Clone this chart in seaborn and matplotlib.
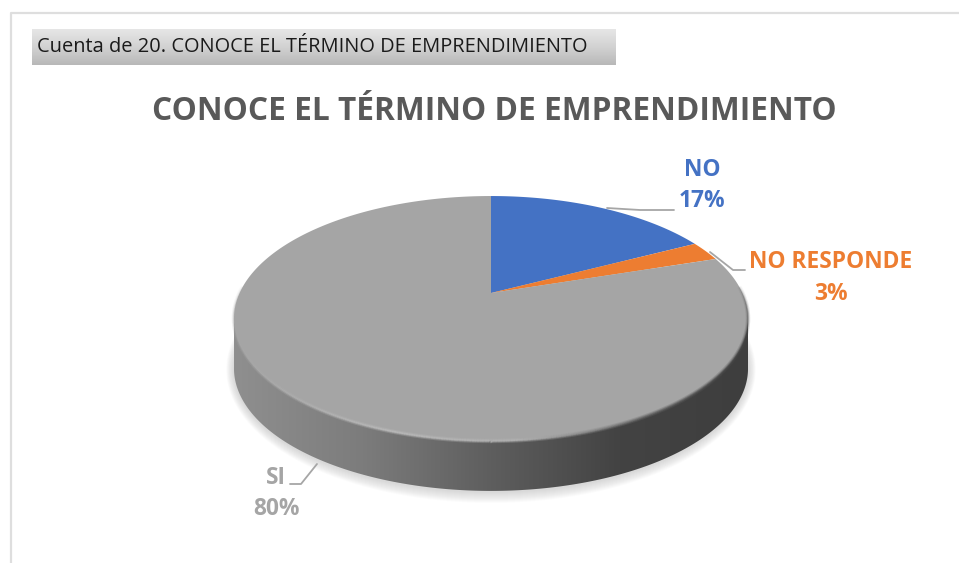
import numpy as np
import matplotlib
matplotlib.use("Agg")
import matplotlib.pyplot as plt
from matplotlib.collections import LineCollection
from matplotlib.colors import LinearSegmentedColormap
from matplotlib.patches import Polygon
import seaborn as sns

categories = ["NO", "NO RESPONDE", "SI"]
values = [17.4, 2.6, 80.0]
colors = ["#4472C4", "#ED7D31", "#A5A5A5"]
chart_title = "CONOCE EL TÉRMINO DE EMPRENDIMIENTO"
field_label = "Cuenta de 20. CONOCE EL TÉRMINO DE EMPRENDIMIENTO"

sns.set_theme(style="white")
plt.rcParams["font.family"] = ["Open Sans", "DejaVu Sans"]
palette = sns.color_palette(colors)

fig = plt.figure(figsize=(9.59, 5.63), dpi=100)
ax = fig.add_axes([0, 0, 1, 1])
ax.axis("off")


# tilted disc: unit circle to screen pixels, with perspective
def project(x, y, drop=0):
    k = 0.208
    u = 491 + 251.4 * x / (1 + k * y)
    v = (293 - 56.2 * y) / (1 + k * y) + drop
    return u, v


def rim(start, stop, drop=0, n=300):
    # angles are clockwise from the top, in fractions of the whole pie
    a = 2 * np.pi * np.linspace(start, stop, n)
    return project(np.sin(a), np.cos(a), drop)


# chart frame
ax.plot([10.5, 10.5, 959], [563, 12.5, 12.5], color="#dedede", lw=1.6, solid_capstyle="butt")

# field button
bar_cmap = LinearSegmentedColormap.from_list("bar", ["#e6e6e6", "#d2d2d2", "#b8b8b8"])
ax.imshow(np.linspace(0, 1, 64).reshape(-1, 1), extent=(32, 616, 65, 29), cmap=bar_cmap,
          aspect="auto", zorder=1)
ax.text(37, 47.5, field_label, fontsize=14.4, color="#1a1a1a", va="center", ha="left", zorder=2)

ax.text(494, 111, chart_title, fontsize=22.8, fontweight="bold", color="#595959",
        va="center", ha="center")

# soft shadow under the disc
for grow in np.arange(1, 12):
    su, sv = rim(0, 1, 50)
    su = 491 + (su - 491) * (257 + grow * 0.7) / 257
    sv = 368 + (sv - 368) * (123 + grow) / 123 + 1
    ax.fill(su, sv, color="#808080", alpha=0.028, lw=0, zorder=2)

# side of the disc
side_cmap = LinearSegmentedColormap.from_list(
    "side", [(0, "#8f8f8f"), (0.25, "#7c7c7c"), (0.5, "#5e5e5e"), (0.75, "#434343"), (1, "#3e3e3e")])
side_img = ax.imshow(np.linspace(0, 1, 256).reshape(1, -1), extent=(234, 748, 500, 300),
                     cmap=side_cmap, aspect="auto", zorder=3)
tu, tv = rim(0.283, 0.717, 0)
bu, bv = rim(0.283, 0.717, 50)
side_clip = Polygon(np.column_stack([np.r_[tu, bu[::-1]], np.r_[tv - 5, bv[::-1]]]),
                    transform=ax.transData, fc="none", ec="none")
ax.add_patch(side_clip)
side_img.set_clip_path(side_clip)

# top of the disc, one slice per value
fractions = np.array(values) / np.sum(values)
edges = np.r_[0, np.cumsum(fractions)]
for i, name in enumerate(categories):
    wu, wv = rim(edges[i], edges[i + 1])
    au, av = project(0, 0)
    ax.fill(np.r_[au, wu], np.r_[av, wv], color=palette[i], lw=0, zorder=5)

# bevel between top and side, fading out towards the widest points
au, av = rim(0.24, 0.76, 0, 400)
pts = np.column_stack([au, av])
segs = np.stack([pts[:-1], pts[1:]], axis=1)
shade = np.clip((au[:-1] - 234) / 514, 0, 1)
bevel_cmap = LinearSegmentedColormap.from_list(
    "bevel", [(0, "#a8a8a8"), (0.3, "#bcbcbc"), (0.55, "#b4b4b4"), (0.8, "#6a6a6a"), (1, "#4c4c4c")])
fade = np.sin(np.linspace(0, np.pi, len(segs))) ** 0.5
for lw, alpha in [(3.2, 0.3), (1.8, 0.5), (0.9, 0.7)]:
    seg_colors = bevel_cmap(shade)
    seg_colors[:, 3] = fade * alpha
    ax.add_collection(LineCollection(segs, colors=seg_colors, linewidths=lw, zorder=6))

# leader lines
leader = "#a6a6a6"
ax.plot([607, 640, 674], [208, 210, 210], color=leader, lw=1.3, zorder=7)
ax.plot([710, 733, 745], [252, 270, 270], color=leader, lw=1.3, zorder=7)
ax.plot([317, 301, 290], [464, 484, 484], color=leader, lw=1.3, zorder=7)

# data labels
label_pos = [(702, 170, 201), (831, 262, 294), (276, 478, 509)]
for i, name in enumerate(categories):
    x, y1, y2 = label_pos[i]
    ax.text(x, y1, name, color=palette[i], fontsize=16.4, fontweight="bold", ha="center", va="center")
    ax.text(x, y2, f"{round(values[i])}%", color=palette[i], fontsize=16.4, fontweight="bold",
            ha="center", va="center")

ax.set_xlim(0, 959)
ax.set_ylim(563, 0)
fig.savefig("out.png", dpi=100, facecolor="white")
